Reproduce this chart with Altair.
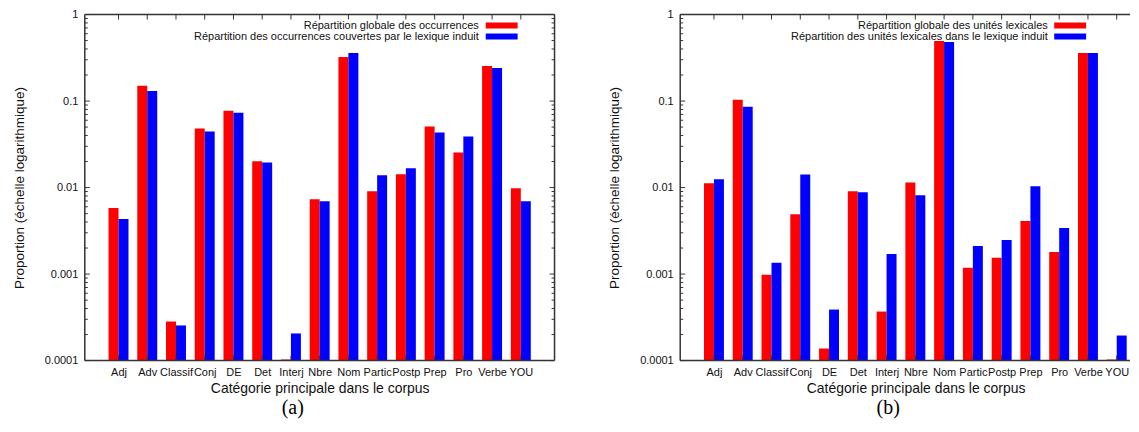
import json
import altair as alt
import pandas as pd

# ---------------- data ----------------
categories = ["Adj", "Adv", "Classif", "Conj", "DE", "Det", "Interj", "Nbre",
              "Nom", "Partic", "Postp", "Prep", "Pro", "Verbe", "YOU"]

# (a) occurrences
a_global = [0.0058, 0.150, 0.000283, 0.0481, 0.0774, 0.0201, 0.000103, 0.00735,
            0.323, 0.00906, 0.01422, 0.0507, 0.0255, 0.2545, 0.00984]
a_lexique = [0.00432, 0.131, 0.000255, 0.0444, 0.0734, 0.0195, 0.000206, 0.00696,
             0.359, 0.01384, 0.01667, 0.0432, 0.0389, 0.2414, 0.00696]

# (b) unités lexicales
b_global = [0.0112, 0.1035, 0.00098, 0.00493, 0.000138, 0.00906, 0.000369, 0.01148,
            0.493, 0.00118, 0.00154, 0.0041, 0.0018, 0.359, 0.000103]
b_lexique = [0.01245, 0.0860, 0.00135, 0.0142, 0.000389, 0.00883, 0.00171, 0.00815,
             0.480, 0.00211, 0.00248, 0.01035, 0.0034, 0.359, 0.000195]

legend_a = ["Répartition globale des occurrences",
            "Répartition des occurrences couvertes par le lexique induit"]
legend_b = ["Répartition globale des unités lexicales",
            "Répartition des unités lexicales dans le lexique induit"]

series_colors = ["#ff0000", "#0000ff"]

y_major = [0.0001, 0.001, 0.01, 0.1, 1]
y_minor = [k * 10.0 ** e for e in range(-4, 0) for k in range(2, 10)]

x_title = "Catégorie principale dans le corpus"
y_title = "Proportion (échelle logarithmique)"

FONT = "Liberation Sans"
SERIF = "Liberation Serif"
AX = "#333333"
TXT = "#111111"
H = 347
positions = list(range(len(categories)))
label_expr = json.dumps(categories) + "[datum.value]"


def panel(glob, lex, labels, W, step, text_end, sw_x0, tag, right_side):
    xs = alt.Scale(domain=[-1, W / step - 1], nice=False, zero=False)
    ys = alt.Scale(type="log", domain=[0.0001, 1], nice=False)

    x_axis = alt.Axis(
        title=x_title, values=positions, labelExpr=label_expr,
        labelAngle=0, domain=False, ticks=False, labelFlush=False,
        labelPadding=6, labelFontSize=11, labelOverlap=False, labelColor=TXT,
        titleFontSize=14, titleFontWeight="normal", titleColor=TXT,
        titlePadding=4, grid=False, titleX=8 * step)
    y_axis = alt.Axis(
        values=y_major, format=".4~f", domain=False, ticks=False,
        grid=False, labelPadding=7, labelFontSize=11, labelColor=TXT,
        title=y_title, titleFontSize=13.5, titleFontWeight="normal", titleColor=TXT,
        titlePadding=18)

    bar_layers = []
    for vals, col, off in [(glob, series_colors[0], -5), (lex, series_colors[1], 5)]:
        d = pd.DataFrame({"idx": positions, "cat": categories, "value": vals})
        bar_layers.append(alt.Chart(d).mark_bar(width=10, xOffset=off, color=col).encode(
            x=alt.X("idx:Q", scale=xs, axis=x_axis),
            y=alt.Y("value:Q", scale=ys, axis=y_axis),
            y2=alt.datum(0.0001)))

    cat_df = pd.DataFrame({"idx": positions})
    xpos = alt.X("idx:Q", scale=xs, axis=x_axis)
    top_ticks = alt.Chart(cat_df).mark_rule(color=AX, strokeWidth=1).encode(
        x=xpos, y=alt.value(0), y2=alt.value(5))
    bottom_ticks = alt.Chart(cat_df).mark_rule(color=AX, strokeWidth=1).encode(
        x=xpos, y=alt.value(H - 5), y2=alt.value(H))

    maj_df = pd.DataFrame({"v": y_major})
    min_df = pd.DataFrame({"v": y_minor})
    ypos = alt.Y("v:Q", scale=ys, axis=y_axis)
    tick_layers = [
        alt.Chart(maj_df).mark_rule(color=AX, strokeWidth=1).encode(
            y=ypos, x=alt.value(0), x2=alt.value(5)),
        alt.Chart(min_df).mark_rule(color=AX, strokeWidth=1).encode(
            y=ypos, x=alt.value(0), x2=alt.value(3)),
    ]
    if right_side:
        tick_layers += [
            alt.Chart(maj_df).mark_rule(color=AX, strokeWidth=1).encode(
                y=ypos, x=alt.value(W - 5), x2=alt.value(W)),
            alt.Chart(min_df).mark_rule(color=AX, strokeWidth=1).encode(
                y=ypos, x=alt.value(W - 3), x2=alt.value(W)),
        ]

    one = pd.DataFrame({"k": [0]})
    frame = [
        alt.Chart(one).mark_rule(color=AX, strokeWidth=1.5).encode(
            x=alt.value(0), x2=alt.value(W), y=alt.value(0)),
        alt.Chart(one).mark_rule(color=AX, strokeWidth=1.5).encode(
            x=alt.value(0), x2=alt.value(W), y=alt.value(H)),
        alt.Chart(one).mark_rule(color=AX, strokeWidth=1.5).encode(
            x=alt.value(0), y=alt.value(0), y2=alt.value(H)),
    ]
    if right_side:
        frame.append(alt.Chart(one).mark_rule(color=AX, strokeWidth=1.5).encode(
            x=alt.value(W), y=alt.value(0), y2=alt.value(H)))

    layers = bar_layers + [bottom_ticks, top_ticks] + tick_layers + frame
    rows_y = [(8, 14, 14.8), (19, 25, 25.8)]
    for i, (lab, col) in enumerate(zip(labels, series_colors)):
        d1 = pd.DataFrame({"t": [lab]})
        y0, y1, yb = rows_y[i]
        layers.append(alt.Chart(d1).mark_rect(color=col).encode(
            x=alt.value(sw_x0), x2=alt.value(sw_x0 + 32), y=alt.value(y0), y2=alt.value(y1)))
        layers.append(alt.Chart(d1).mark_text(
            align="right", baseline="alphabetic", fontSize=11, font=FONT, color=TXT).encode(
            text="t:N", x=alt.value(text_end), y=alt.value(yb)))

    tag_df = pd.DataFrame({"t": [tag]})
    layers.append(alt.Chart(tag_df).mark_text(
        align="center", baseline="alphabetic", fontSize=20, font=SERIF, color="#000000").encode(
        text="t:N", x=alt.value(208.5), y=alt.value(401)))

    return alt.layer(*layers).properties(width=W, height=H)


pa = panel(a_global, a_lexique, legend_a, 471, 471 / 16, 395, 402, "(a)", True)
pb = panel(b_global, b_lexique, legend_b, 451, 29.5, 368.5, 375, "(b)", False)

chart = alt.hconcat(pa, pb, spacing=52).configure(
    font=FONT
).configure_view(
    strokeWidth=0
).configure_axisX(
    labelOverlap=False
).properties(
    padding={"left": 4, "top": 0, "right": 0, "bottom": 0},
    background="white",
)

chart.save("out.html", embed_options={"renderer": "svg", "actions": False})
